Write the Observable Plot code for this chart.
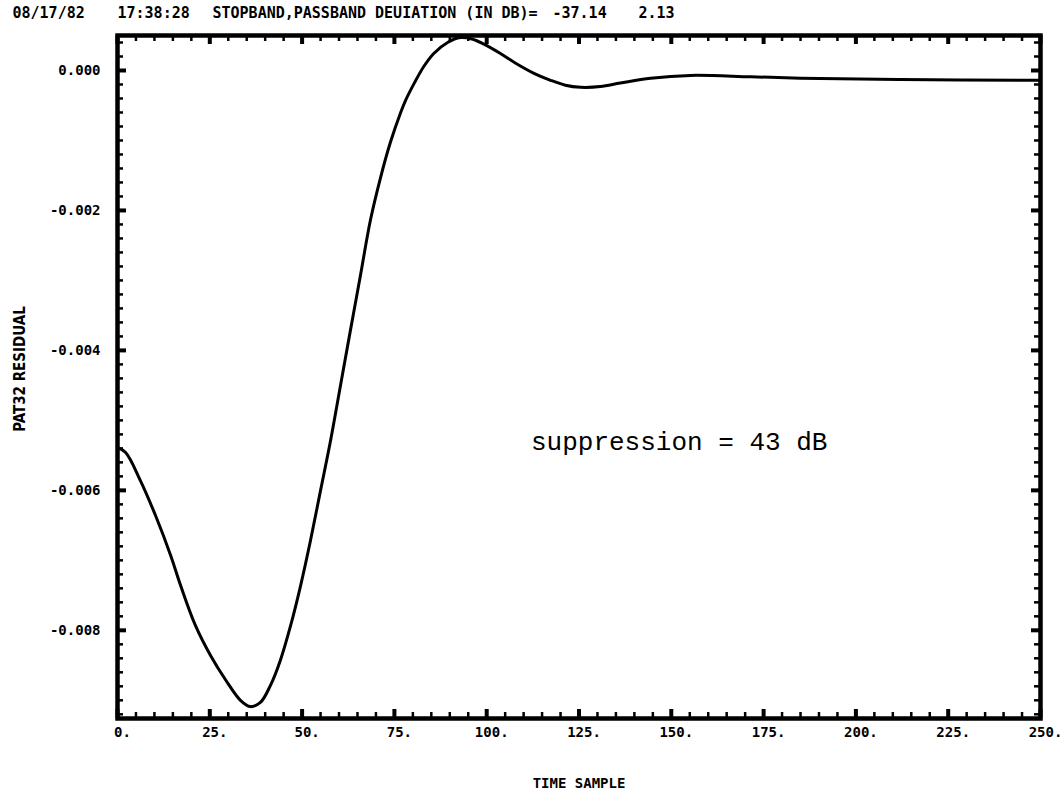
<!DOCTYPE html>
<html><head><meta charset="utf-8">
<script src="https://cdn.jsdelivr.net/npm/d3@7"></script>
<script src="https://cdn.jsdelivr.net/npm/@observablehq/plot@0.6"></script>
<style>body{margin:0;background:#fff}</style>
</head><body><div id="chart"></div>
<script>
// ---- data ----
const timeSample = [0, 2.2, 6.2, 10.3, 14.4, 17.1, 21.1, 25.2, 29.3, 33.3, 36.0, 38.7, 41.4, 44.1, 46.9, 49.6, 52.3, 55.0, 57.7, 60.4, 63.1, 65.8, 68.5, 71.2, 73.9, 76.7, 78.0, 80.5, 83.0, 85.6, 89.4, 92.9, 96.0, 99.1, 103.5, 108.3, 112.8, 117.3, 121.3, 125.4, 130.8, 136.2, 144.4, 155.2, 171.5, 185.0, 212.1, 250];
const residual = [-0.00539, -0.00546, -0.00586, -0.00636, -0.00693, -0.00736, -0.00793, -0.00836, -0.00871, -0.00900, -0.00909, -0.00903, -0.00879, -0.00843, -0.00793, -0.00736, -0.00671, -0.00600, -0.00529, -0.00450, -0.00371, -0.00293, -0.00214, -0.00154, -0.00103, -0.00060, -0.00043, -0.00017, 0.00006, 0.00024, 0.00040, 0.00047, 0.00045, 0.00038, 0.00025, 0.00009, -0.00004, -0.00014, -0.00021, -0.00024, -0.00023, -0.00018, -0.00011, -0.00007, -0.00009, -0.00011, -0.00013, -0.00014];
const xMajorTicks = [0, 25, 50, 75, 100, 125, 150, 175, 200, 225, 250];
const xMinorTicks = [0,5,10,15,20,25,30,35,40,45,50,55,60,65,70,75,80,85,90,95,100,105,110,115,120,125,130,135,140,145,150,155,160,165,170,175,180,185,190,195,200,205,210,215,220,225,230,235,240,245,250];
const yMajorTicks = [0, -0.002, -0.004, -0.006, -0.008];
const yMinorTicks = d3.range(-46, 3).map(i => i * 0.0002);
const titleParts = ["08/17/82", "17:38:28", "STOPBAND,PASSBAND DEUIATION (IN DB)=", "-37.14", "2.13"];
const titleOffsets = [-105, 0, 95, 435, 521];
const yLabel = "PAT32 RESIDUAL";
const xLabel = "TIME SAMPLE";
const note = "suppression = 43 dB";
const noteX = 112, noteY = -0.00531;
const xDomain = [0, 250], yDomain = [-0.00926, 0.0005];

// ---- layout ----
const W = 1062, H = 801, mL = 117, mR = 22, mT = 35, mB = 83;
const fw = W - mL - mR, fh = H - mT - mB;
const data = timeSample.map((t, i) => ({t, v: residual[i]}));
const tickFont = {fontFamily: "DejaVu Sans Mono", fontWeight: "bold", fontSize: 14};

const titleMarks = titleParts.map((s, i) => Plot.text([s], {
  frameAnchor: "top-left", text: d => d, textAnchor: "start", lineAnchor: "middle",
  dx: titleOffsets[i], dy: -22, fontFamily: "DejaVu Sans Mono", fontWeight: "bold", fontSize: 15
}));

const chart = Plot.plot({
  width: W, height: H,
  marginLeft: mL, marginRight: mR, marginTop: mT, marginBottom: mB,
  x: {domain: xDomain},
  y: {domain: yDomain},
  style: {background: "#fff", color: "#000"},
  marks: [
    Plot.line(data, {x: "t", y: "v", stroke: "#000", strokeWidth: 3, curve: "catmull-rom"}),
    Plot.tickX(xMinorTicks, {x: d => d, insetTop: fh - 6, strokeWidth: 2.5}),
    Plot.tickX(xMinorTicks, {x: d => d, insetBottom: fh - 6, strokeWidth: 2.5}),
    Plot.tickX(xMajorTicks, {x: d => d, insetTop: fh - 9, strokeWidth: 4}),
    Plot.tickX(xMajorTicks, {x: d => d, insetBottom: fh - 9, strokeWidth: 4}),
    Plot.tickY(yMinorTicks, {y: d => d, insetRight: fw - 6, strokeWidth: 2.5}),
    Plot.tickY(yMinorTicks, {y: d => d, insetLeft: fw - 6, strokeWidth: 2.5}),
    Plot.tickY(yMajorTicks, {y: d => d, insetRight: fw - 9, strokeWidth: 4}),
    Plot.tickY(yMajorTicks, {y: d => d, insetLeft: fw - 9, strokeWidth: 4}),
    Plot.frame({strokeWidth: 4.5}),
    Plot.axisX(xMajorTicks, {anchor: "bottom", tickSize: 0, tickPadding: 9, dx: 5, tickFormat: d => d + ".", label: null, ...tickFont}),
    Plot.axisY(yMajorTicks, {anchor: "left", tickSize: 0, tickPadding: 17, tickFormat: d => d.toFixed(3), label: null, ...tickFont}),
    Plot.text([yLabel], {frameAnchor: "left", textAnchor: "middle", text: d => d, dx: -97, dy: -8, rotate: -90, fontFamily: "DejaVu Sans Condensed", fontWeight: "bold", fontSize: 15}),
    Plot.text([xLabel], {frameAnchor: "bottom", text: d => d, dy: 69, ...tickFont}),
    ...titleMarks,
    Plot.text([note], {x: () => noteX, y: () => noteY, text: d => d, textAnchor: "start", fontFamily: "Liberation Mono", fontSize: 26})
  ]
});
document.getElementById("chart").appendChild(chart);
</script>
</body></html>
